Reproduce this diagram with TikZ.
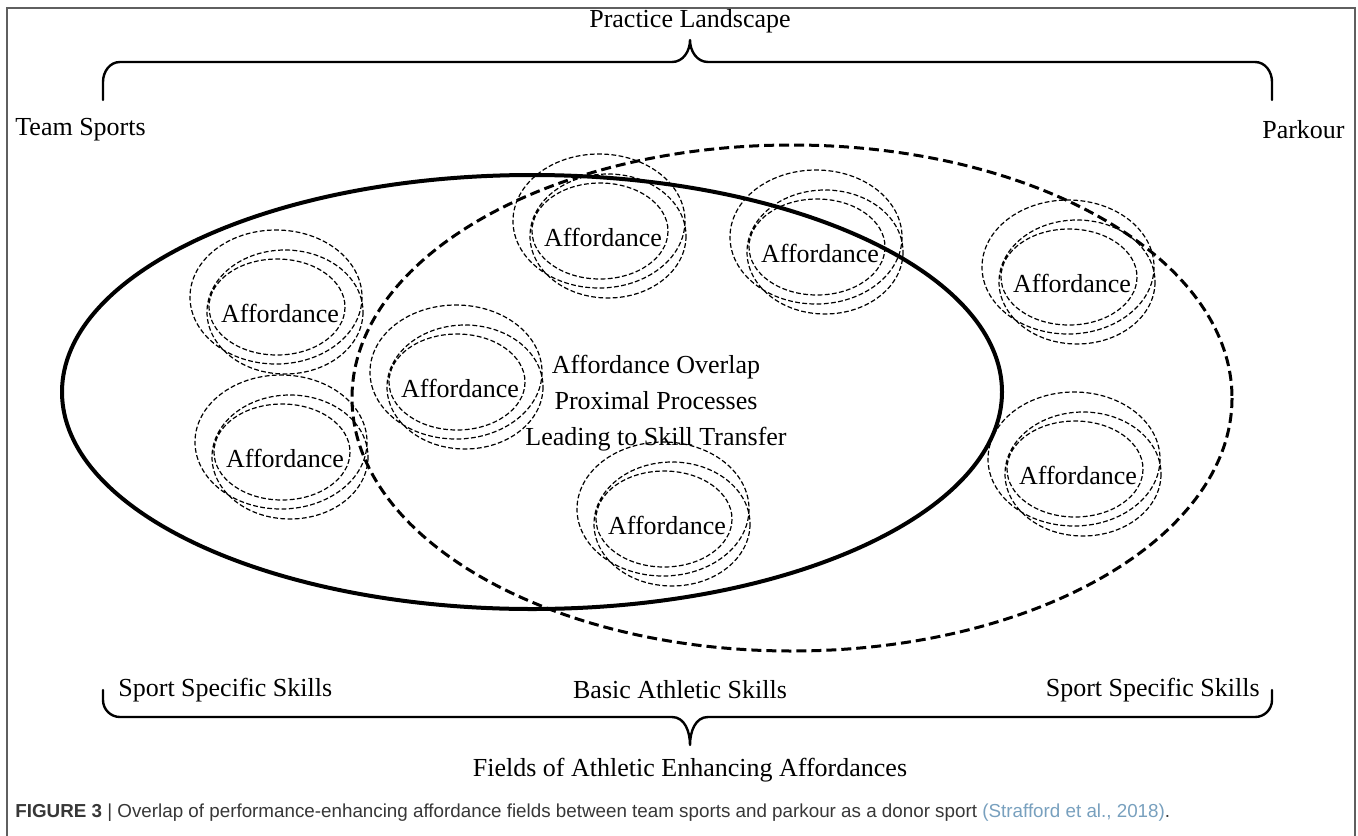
\documentclass[tikz,border=0pt]{standalone}
\usepackage{fontspec}
\setmainfont{Liberation Serif}
\newfontfamily\capfont{Liberation Sans}
\usepackage{tikz}
\usetikzlibrary{positioning}
\definecolor{framegray}{RGB}{95,95,95}
\definecolor{capgray}{RGB}{55,55,55}
\definecolor{citeblue}{RGB}{120,160,190}
\tikzset{>=stealth}

\begin{document}
\begin{tikzpicture}[x=0.5pt,y=-0.5pt,
		txt/.style={font=\fontsize{13}{18}\selectfont, inner sep=0pt},
		affring/.style={dash pattern=on 2.4pt off 1.2pt, line width=0.6pt},
		brace/.style={line width=1.2pt, line join=round, line cap=round}]
						\useasboundingbox (0,0) rectangle (1358,835);
						\draw [framegray, line width=1pt] (7,840) |- (1355,8) -- (1355,840);
						\node [txt] (practice) at (690,21) {Practice Landscape};
						\draw [brace] (103,100) -- (103,82) to [out=90,in=180] (120,62) -- (672,62) to [out=0,in=-90] (690,40) to [out=-90,in=180] (708,62) -- (1255,62) to [out=0,in=90] (1272,82) -- (1272,100);
						\node [txt, anchor=west] (team) at (15,130) {Team Sports};
						\node [txt, anchor=east] (parkour) at (1345,130) {Parkour};
						\draw [line width=2pt] (532,392) ellipse (470 and 217);
						\draw [line width=1.5pt, dash pattern=on 5pt off 2.5pt] (792,398) ellipse (440 and 253);
						\node [txt, align=center] (overlap) at (656,403) {Affordance Overlap\\Proximal Processes\\Leading to Skill Transfer};
						\node [txt] (aff1) at (280,313) {Affordance};
						\node [txt] (aff2) at (285,458) {Affordance};
						\node [txt] (aff3) at (460,388) {Affordance};
						\node [txt] (aff4) at (603,237) {Affordance};
						\node [txt] (aff5) at (820,253) {Affordance};
						\node [txt] (aff6) at (1072,283) {Affordance};
						\node [txt] (aff7) at (1078,475) {Affordance};
						\node [txt] (aff8) at (667,525) {Affordance};
						\draw [affring, shift={(aff1)}] (-4,-16) ellipse (86 and 67) (5,-1) ellipse (78 and 62) (-3,-6) ellipse (68 and 48);
						\draw [affring, shift={(aff2)}] (-4,-16) ellipse (86 and 67) (5,-1) ellipse (78 and 62) (-3,-6) ellipse (68 and 48);
						\draw [affring, shift={(aff3)}] (-4,-16) ellipse (86 and 67) (5,-1) ellipse (78 and 62) (-3,-6) ellipse (68 and 48);
						\draw [affring, shift={(aff4)}] (-4,-16) ellipse (86 and 67) (5,-1) ellipse (78 and 62) (-3,-6) ellipse (68 and 48);
						\draw [affring, shift={(aff5)}] (-4,-16) ellipse (86 and 67) (5,-1) ellipse (78 and 62) (-3,-6) ellipse (68 and 48);
						\draw [affring, shift={(aff6)}] (-4,-16) ellipse (86 and 67) (5,-1) ellipse (78 and 62) (-3,-6) ellipse (68 and 48);
						\draw [affring, shift={(aff7)}] (-4,-16) ellipse (86 and 67) (5,-1) ellipse (78 and 62) (-3,-6) ellipse (68 and 48);
						\draw [affring, shift={(aff8)}] (-4,-16) ellipse (86 and 67) (5,-1) ellipse (78 and 62) (-3,-6) ellipse (68 and 48);
						\node [txt, anchor=west] (sportl) at (118,690) {Sport Specific Skills};
						\node [txt] (basic) at (680,690) {Basic Athletic Skills};
						\node [txt, anchor=east] (sportr) at (1260,690) {Sport Specific Skills};
						\draw [brace] (103,690) -- (103,700) to [out=-90,in=180] (120,717) -- (672,717) to [out=0,in=90] (690,745) to [out=90,in=180] (708,717) -- (1255,717) to [out=0,in=-90] (1272,700) -- (1272,690);
						\node [txt] (fields) at (690,770) {Fields of Athletic Enhancing Affordances};
						\node [anchor=west, inner sep=0pt, text=capgray, font=\capfont\fontsize{9.4}{11}\selectfont] (caption) at (15,813) {\textbf{FIGURE 3} | Overlap of performance-enhancing affordance fields between team sports and parkour as a donor sport \textcolor{citeblue}{(Strafford et al., 2018)}.};
					\end{tikzpicture}
\end{document}
